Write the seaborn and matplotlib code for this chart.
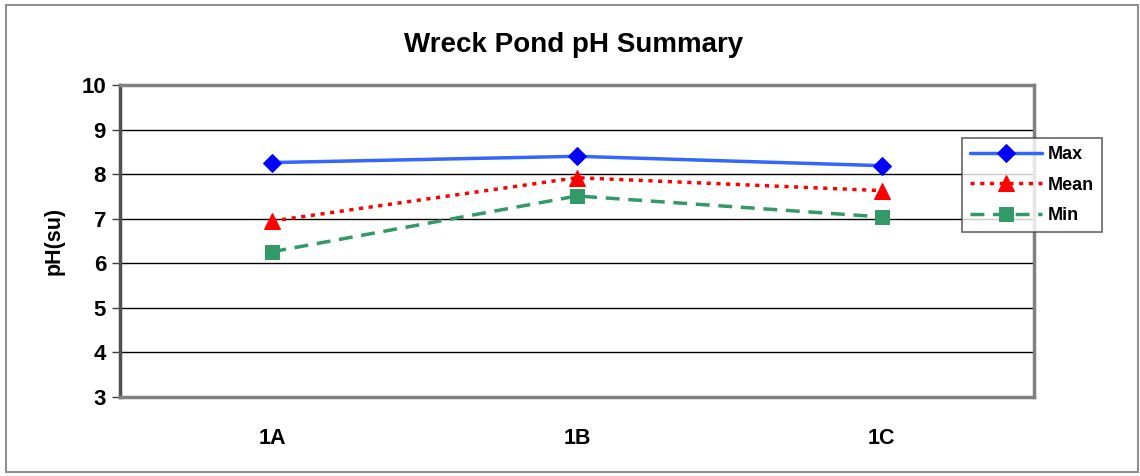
import matplotlib
matplotlib.use("Agg")
import matplotlib.pyplot as plt
import seaborn as sns
import pandas as pd
from matplotlib.patches import Rectangle

sites = ["1A", "1B", "1C"]
max_ph = [8.26, 8.40, 8.19]
mean_ph = [6.95, 7.92, 7.63]
min_ph = [6.26, 7.51, 7.04]
series_names = ["Max", "Mean", "Min"]
title = "Wreck Pond pH Summary"
ylabel = "pH(su)"
yticks = [3, 4, 5, 6, 7, 8, 9, 10]

sns.set_theme(style="white")
plt.rcParams["font.family"] = ["Liberation Sans", "DejaVu Sans"]
plt.rcParams["text.color"] = "black"
plt.rcParams["axes.labelcolor"] = "black"
plt.rcParams["xtick.color"] = "black"
plt.rcParams["ytick.color"] = "black"

df = pd.DataFrame({
    "site": sites * 3,
    "pH": max_ph + mean_ph + min_ph,
    "series": [s for s in series_names for _ in sites],
})

fig = plt.figure(figsize=(11.4, 4.76), dpi=100)
ax = fig.add_axes([120/1140, 1-397/476, (1034-120)/1140, (397-85)/476])

styles = {
    "Max": dict(color="#3366FF", marker="D", mfc="#0000FF", mec="#0000FF", ms=9, ls="-"),
    "Mean": dict(color="#FF0000", marker="^", mfc="#FF0000", mec="#FF0000", ms=11, ls=(0, (1.2, 1.6))),
    "Min": dict(color="#339966", marker="s", mfc="#339966", mec="#339966", ms=10, ls=(0, (4, 2.5))),
}
for name in series_names:
    st = styles[name]
    sub = df[df["series"] == name]
    sns.lineplot(data=sub, x="site", y="pH", ax=ax, color=st["color"], marker=st["marker"],
                 markersize=st["ms"], markerfacecolor=st["mfc"], markeredgecolor=st["mec"],
                 linestyle=st["ls"], linewidth=2.5, label=name, sort=False)

ax.set_xlim(-0.5, 2.5)
ax.set_ylim(3, 10)
ax.set_yticks(yticks)
ax.set_yticklabels([str(t) for t in yticks], fontsize=16, fontweight="bold")
ax.set_xticks([-0.5, 0.5, 1.5, 2.5])
ax.set_xticklabels([])
ax.set_xticks([0, 1, 2], minor=True)
ax.set_xticklabels(sites, minor=True, fontsize=15.5, fontweight="bold")
ax.tick_params(axis="x", which="minor", length=0, pad=22)
ax.tick_params(axis="x", which="major", length=6, width=1, color="#404040", direction="out")
ax.tick_params(axis="y", which="major", length=6, width=1, color="#404040", direction="out", left=True, pad=4)
ax.set_xlabel("")
ax.set_ylabel(ylabel, fontsize=15.5, fontweight="bold", labelpad=12)

ax.grid(False)
for t in yticks[1:-1]:
    ax.axhline(t, color="black", lw=1, zorder=0)

for s in ["top", "right", "bottom"]:
    ax.spines[s].set_color("#808080")
    ax.spines[s].set_linewidth(2.5)
ax.spines["left"].set_color("#505050")
ax.spines["left"].set_linewidth(2.5)

fig.suptitle(title, fontsize=20, fontweight="bold", x=0.503, y=1-45/476, va="center", color="black")

ax.get_legend().remove()
handles, labels = ax.get_legend_handles_labels()
leg = fig.legend(handles, labels, loc="upper left", bbox_to_anchor=(962/1140, 1-138/476),
                 bbox_transform=fig.transFigure, frameon=True, fancybox=False,
                 prop={"size": 13, "weight": "bold"}, handlelength=4.0, borderpad=0.45,
                 labelspacing=0.75, handletextpad=0.3, borderaxespad=0)
leg.get_frame().set_edgecolor("#404040")
leg.get_frame().set_linewidth(1.2)
leg.set_zorder(10)

fig.patches.append(Rectangle((6/1140, 4/476), (1138-6)/1140, (471-4)/476, transform=fig.transFigure,
                             fill=False, edgecolor="#909090", lw=1.5))

fig.savefig("out.png", dpi=100)
